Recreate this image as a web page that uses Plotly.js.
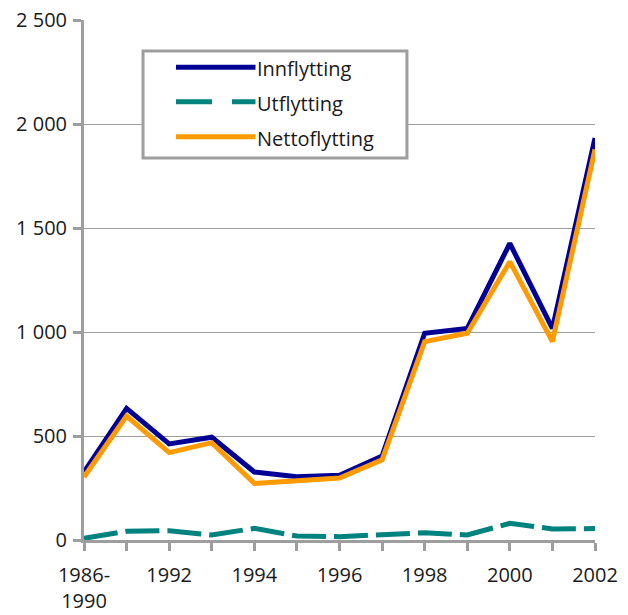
<!DOCTYPE html>
<html>
<head>
<meta charset="utf-8">
<script src="https://cdn.plot.ly/plotly-3.0.1.min.js"></script>
<style>
  html, body { margin: 0; padding: 0; background: #ffffff; }
  #chart { width: 628px; height: 615px; }
</style>
</head>
<body>
<div id="chart"></div>
<script>
// Categories (x axis)
const categories = ['1986-1990', '1991', '1992', '1993', '1994', '1995', '1996',
                    '1997', '1998', '1999', '2000', '2001', '2002'];
// Tick labels shown on the x axis (every other category)
const xTickText = ['1986-<br>1990', '', '1992', '', '1994', '', '1996',
                   '', '1998', '', '2000', '', '2002'];
// Series values
const innflytting   = [327, 633, 462, 494, 327, 304, 311, 404, 994, 1017, 1426, 1017, 1933];
const utflytting    = [8, 42, 45, 24, 56, 19, 16, 27, 35, 24, 80, 53, 55];
const nettoflytting = [303, 596, 420, 468, 272, 285, 298, 385, 954, 994, 1338, 954, 1878];
// Y axis ticks
const yTickVals = [0, 500, 1000, 1500, 2000, 2500];
const yTickText = ['0', '500', '1 000', '1 500', '2 000', '2 500'];
// Series names
const seriesNames = ['Innflytting', 'Utflytting', 'Nettoflytting'];

const colInn = '#000096';
const colUt = '#00827F';
const colNetto = '#FF9A00';
const fontFam = '"Open Sans", "DejaVu Sans", sans-serif';
const gray = '#9e9e9e';

const traces = [
  { x: categories, y: innflytting, name: seriesNames[0], type: 'scatter', mode: 'lines',
    line: { color: colInn, width: 5 } },
  { x: categories, y: utflytting, name: seriesNames[1], type: 'scatter', mode: 'lines',
    line: { color: colUt, width: 5, dash: '34px,8px' } },
  { x: categories, y: nettoflytting, name: seriesNames[2], type: 'scatter', mode: 'lines',
    line: { color: colNetto, width: 5 } }
];

// Custom legend (box, line samples, labels) in paper coordinates
const legRows = [0.909, 0.843, 0.7756];
const legCols = [colInn, colUt, colNetto];
const legDash = ['solid', '36px,20px', 'solid'];
const shapes = [
  { type: 'rect', xref: 'paper', yref: 'paper', x0: 0.1155, x1: 0.632, y0: 0.7346, y1: 0.9404,
    fillcolor: '#ffffff', line: { color: gray, width: 3 } }
];
const annotations = [];
for (let i = 0; i < 3; i++) {
  shapes.push({ type: 'line', xref: 'paper', yref: 'paper', x0: 0.180, x1: 0.3356,
    y0: legRows[i], y1: legRows[i], line: { color: legCols[i], width: 5, dash: legDash[i] } });
  annotations.push({ xref: 'paper', yref: 'paper', x: 0.334, y: legRows[i] - 0.003,
    xanchor: 'left', yanchor: 'middle', showarrow: false, text: seriesNames[i],
    font: { family: fontFam, size: 20, color: '#1a1a1a' } });
}

const layout = {
  width: 628, height: 615,
  margin: { l: 84, r: 33, t: 20, b: 75, pad: 0 },
  paper_bgcolor: '#ffffff', plot_bgcolor: '#ffffff',
  showlegend: false,
  font: { family: fontFam, size: 20, color: '#1a1a1a' },
  xaxis: {
    type: 'category', range: [0, 12],
    tickmode: 'array', tickvals: categories, ticktext: xTickText,
    showline: true, linecolor: gray, linewidth: 3,
    ticks: 'outside', ticklen: 8, tickwidth: 3, tickcolor: gray,
    ticklabelstandoff: 7,
    showgrid: false, zeroline: false, tickangle: 0,
    tickfont: { family: fontFam, size: 20, color: '#1a1a1a' }
  },
  yaxis: {
    range: [0, 2500], tickmode: 'array', tickvals: yTickVals, ticktext: yTickText,
    showline: true, linecolor: gray, linewidth: 3,
    ticks: 'outside', ticklen: 8, tickwidth: 3, tickcolor: gray,
    ticklabelstandoff: 2,
    showgrid: true, gridcolor: gray, gridwidth: 1, zeroline: false,
    tickfont: { family: fontFam, size: 20, color: '#1a1a1a' }
  },
  shapes: shapes,
  annotations: annotations
};

Plotly.newPlot('chart', traces, layout, { staticPlot: true, displayModeBar: false });
</script>
</body>
</html>
